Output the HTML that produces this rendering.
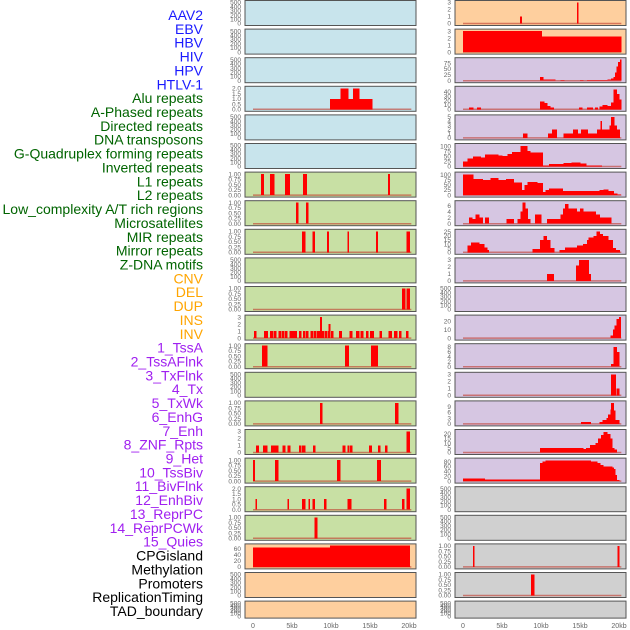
<!DOCTYPE html>
<html><head><meta charset="utf-8"><style>
html,body{margin:0;padding:0;background:#fff;}
svg{display:block;font-family:"Liberation Sans",sans-serif;}
</style></head><body>
<svg id="chart" width="630" height="630" viewBox="0 0 630 630">
<g id="labels"></g>
<g id="panels"></g>
<g id="xaxes"></g>
</svg>
<script>
const trackLabels = ["AAV2","EBV","HBV","HIV","HPV","HTLV-1","Alu repeats","A-Phased repeats","Directed repeats","DNA transposons","G-Quadruplex forming repeats","Inverted repeats","L1 repeats","L2 repeats","Low_complexity A/T rich regions","Microsatellites","MIR repeats","Mirror repeats","Z-DNA motifs","CNV","DEL","DUP","INS","INV","1_TssA","2_TssAFlnk","3_TxFlnk","4_Tx","5_TxWk","6_EnhG","7_Enh","8_ZNF_Rpts","9_Het","10_TssBiv","11_BivFlnk","12_EnhBiv","13_ReprPC","14_ReprPCWk","15_Quies","CPGisland","Methylation","Promoters","ReplicationTiming","TAD_boundary"];
const labelGroups = [6,13,5,15,5];
const groupColors = ["#1a1aff","#006400","#ffa500","#a020f0","#000000"];
const xTickValues = [0,5,10,15,20];
const xTickLabels = ["0","5kb","10kb","15kb","20kb"];

const leftBg = ["b","b","b","b","b","b","g","g","g","g","g","g","g","g","g","g","g","g","g","p","p","p"];
const leftTicks = [
 [0,100,200,300,400,500],[0,100,200,300,400,500],[0,100,200,300,400,500],[0,0.5,1,1.5,2],
 [0,100,200,300,400,500],[0,100,200,300,400,500],[0,0.25,0.5,0.75,1],[0,0.25,0.5,0.75,1],
 [0,0.25,0.5,0.75,1],[0,100,200,300,400,500],[0,0.25,0.5,0.75,1],[0,1,2,3],
 [0,0.25,0.5,0.75,1],[0,100,200,300,400,500],[0,0.25,0.5,0.75,1],[0,1,2,3],
 [0,0.25,0.5,0.75,1],[0,0.5,1,1.5,2],[0,0.25,0.5,0.75,1],[0,20,40,60],
 [0,100,200,300,400,500],[0,100,200,300,400,500]];
const leftMax = [500,500,500,2,500,500,1,1,1,500,1,3,1,500,1,3,1,2,1,70,500,500];
const leftSeg = [
 [],[],[],
 [[9.9,15.3,1],[11.2,12.2,2],[12.8,13.6,2]],
 [],[],
 [[1.0,1.4,1],[2.2,2.7,1],[4.1,4.7,1],[6.4,6.9,1],[17.3,17.5,1]],
 [[5.5,5.8,1],[6.8,7.1,1]],
 [[6.3,6.7,1],[7.6,7.9,1],[9.5,9.7,1],[12.1,12.3,1],[15.8,16.0,1],[19.7,20.1,1]],
 [],
 [[19.1,19.5,1],[19.7,20.1,1]],
 [[0.1,0.4,1],[1.4,1.9,1],[2.2,2.5,1],[2.6,3.0,1],[3.3,3.6,1],[3.7,4.0,1],[4.1,4.4,1],[4.7,5.6,1],[5.9,6.2,1],[6.4,6.7,1],[6.8,7.1,1],[7.4,7.7,1],[7.8,8.1,1],[8.2,8.6,1],[8.6,8.75,3],[8.7,9.1,1],[9.2,9.5,1],[9.6,9.9,1],[9.7,9.9,2],[10.0,10.3,1],[11.0,11.4,1],[12.4,12.7,1],[13.2,13.6,1],[13.8,14.1,1],[14.5,14.8,1],[15.0,15.5,1],[16.2,16.5,1],[17.4,17.8,1],[18.1,18.5,1],[18.7,19.0,1],[19.6,19.9,1]],
 [[1.15,1.8,1],[11.8,12.3,1],[15.1,16.0,1]],
 [],
 [[8.6,8.85,1],[18.2,18.6,1]],
 [[0.4,0.7,1],[1.3,1.8,1],[2.3,3.2,1],[3.8,4.1,1],[4.4,4.8,1],[5.9,6.2,1],[6.3,6.7,1],[7.7,8.0,1],[11.5,11.8,1],[12.1,12.3,1],[12.4,12.7,1],[14.9,15.2,1],[16.0,16.3,1],[16.9,17.2,1],[19.7,20.1,3]],
 [[0.0,0.2,1],[2.8,3.2,1],[10.8,11.2,1],[15.9,16.4,1]],
 [[0.3,0.5,1],[4.4,4.6,1],[6.3,6.7,1],[7.1,7.3,1],[7.6,7.9,1],[9.1,9.4,1],[12.1,12.6,1],[16.8,17.1,1],[19.1,19.4,1],[19.7,20.1,2]],
 [[7.9,8.2,1]],
 [[0,9.9,65],[9.9,20.1,71]],
 [],[]];

const rightBg = ["p","p","l","l","l","l","l","l","l","l","l","l","l","l","l","l","l","y","y","y","y","y"];
const rightTicks = [
 [0,1,2,3],[0,1,2,3],[0,25,50,75],[0,10,20,30,40],[0,1,2,3,4,5],[0,25,50,75,100],[0,25,50,75,100],
 [0,2,4,6],[0,5,10,15,20,25],[0,1,2,3],[0,100,200,300,400,500],[0,10,20],[0,2,4,6,8],[0,1,2,3],
 [0,3,6,9],[0,5,10,15,20],[0,20,40,60,80],[0,100,200,300,400,500],[0,100,200,300,400,500],
 [0,0.25,0.5,0.75,1],[0,0.25,0.5,0.75,1],[0,100,200,300,400,500]];
const rightMax = [3,3,90,48,5,103,103,7,25.5,3,500,25,8.5,3,11,22.5,86,500,500,1,1,500];
const rightSeg = [
 [[7.3,7.5,1],[14.6,14.8,3]],
 [[0,10.1,3],[10.1,20.3,2.2]],
 [[9.9,10.3,15],[10.3,11.8,5],[12.5,13.0,4],[15.0,15.4,4],[15.9,18.5,3],[18.5,19.0,6],[19.0,19.3,10],[19.3,19.5,15],[19.5,19.7,35],[19.7,19.9,60],[19.9,20.1,80],[20.1,20.3,90]],
 [[0.8,1.3,4],[1.8,2.3,4],[9.9,10.4,18],[10.4,10.8,14],[10.8,11.2,8],[11.2,11.6,4],[14.9,15.3,4],[15.9,16.6,4],[16.9,17.3,4],[17.5,17.9,6],[17.9,18.5,10],[18.5,19.0,8],[19.0,19.3,15],[19.3,19.7,45],[19.7,20.0,35],[20.0,20.3,22]],
 [[7.7,8.2,1],[10.9,11.4,1],[11.4,12.0,2],[12.9,14.1,1],[14.1,14.7,2],[14.7,15.1,1],[15.1,16.0,2],[16.0,17.2,1],[17.2,17.6,2],[17.6,17.8,4],[17.8,18.8,2],[18.8,19.0,3],[19.0,19.4,5],[19.4,19.7,3],[19.7,20.1,2]],
 [[0,0.6,25],[0.6,1.3,40],[1.3,2.3,48],[2.3,2.8,45],[2.8,4.0,58],[4.0,4.5,60],[4.5,5.0,55],[5.0,5.7,52],[5.7,6.3,62],[6.3,7.4,72],[7.4,8.2,100],[8.2,8.6,75],[8.6,10.2,68],[10.2,11.0,5],[11.0,12.9,12],[12.9,13.9,18],[13.9,15.0,20],[15.0,15.8,15],[15.8,17.8,5]],
 [[0,1.3,100],[1.3,2.5,80],[2.5,3.5,75],[3.5,4.5,85],[4.5,5.5,75],[5.5,6.5,80],[6.5,7.5,62],[7.5,7.9,25],[7.9,8.3,50],[8.3,9.5,65],[9.5,10.2,60],[10.2,10.6,15],[10.6,11.0,25],[11.0,12.8,32],[12.8,17.5,20],[17.5,18.0,25],[18.0,18.6,28],[18.6,19.3,20],[19.3,19.8,8],[19.8,20.2,3]],
 [[0.8,1.2,2],[1.2,1.6,1.5],[1.6,2.1,3],[2.1,2.5,2],[2.8,3.3,2],[5.6,6.5,1.5],[7.0,7.4,1.5],[7.4,7.6,4],[7.6,8.0,7],[8.0,8.3,5],[8.3,8.6,1.5],[9.2,10.0,3],[10.8,12.5,1.5],[12.5,12.8,3],[12.8,13.1,5],[13.1,13.5,6.5],[13.5,14.6,5],[14.6,15.0,4],[15.0,15.4,5],[15.4,16.0,4],[16.0,17.0,4],[17.0,17.5,3],[17.5,19.0,2]],
 [[0.6,1.0,8],[1.0,2.1,12],[2.1,2.7,10],[2.7,3.1,6],[3.1,3.3,3],[8.9,9.9,4],[9.9,10.3,15],[10.3,10.7,20],[10.7,11.2,15],[11.2,11.7,5],[12.4,13.1,3],[13.1,14.6,6],[14.6,15.4,8],[15.4,15.9,10],[15.9,16.1,15],[16.1,16.7,18],[16.7,17.1,20],[17.1,17.5,25],[17.5,17.9,22],[17.9,18.6,20],[18.6,19.2,15],[19.2,19.6,5],[19.6,20.1,3]],
 [[10.8,11.6,1],[14.5,14.9,2.2],[14.9,16.1,3],[16.1,16.4,1]],
 [],
 [[18.9,19.2,3],[19.2,19.4,10],[19.4,19.7,15],[19.7,20.0,23],[20.0,20.2,25]],
 [[19.0,19.3,1],[19.3,19.7,8],[19.7,20.0,6]],
 [[19.0,19.6,3],[19.7,20.0,1]],
 [[15.1,16.4,1],[17.5,17.9,1],[17.9,18.4,2],[18.4,18.6,3],[18.6,18.9,5],[18.9,19.0,7.5],[19.0,19.3,11],[19.3,19.5,7],[19.5,20.0,2]],
 [[9.9,15.4,5],[15.4,15.8,3.5],[15.8,16.3,5],[16.3,17.0,8],[17.0,17.3,10],[17.3,17.7,15],[17.7,18.0,19],[18.0,18.5,22],[18.5,18.9,20],[18.9,19.1,15],[19.1,19.4,5],[19.4,19.7,3]],
 [[0,2.8,10],[2.8,9.9,6],[9.9,10.2,75],[10.2,10.6,80],[10.6,16.4,85],[16.4,17.2,80],[17.2,17.6,75],[17.6,18.0,65],[18.0,19.1,60],[19.1,19.3,55],[19.3,19.5,50],[19.5,19.7,25],[19.7,20.0,5]],
 [],[],
 [[1.25,1.45,1],[19.8,20.0,1]],
 [[8.7,9.1,1]],
 []];

const bgColors = {b:"#c8e4ec",g:"#c8e0a4",p:"#fecf9e",l:"#d6c6e2",y:"#d0d0d0"};
const NS = "http://www.w3.org/2000/svg";
function mk(tag, attrs, parent){const e=document.createElementNS(NS,tag);for(const k in attrs)e.setAttribute(k,attrs[k]);parent.appendChild(e);return e;}

const lg = document.getElementById('labels');
let gi=0, gc=0;
trackLabels.forEach((t,i)=>{
  while(gc>=labelGroups[gi]){gi++;gc=0;}
  gc++;
  const y = 15 + i*13.86;
  const tx = mk('text',{x:203,y:y+5,'text-anchor':'end','font-size':'14',fill:groupColors[gi]},lg);
  
  
  tx.textContent = t;
});

const pg = document.getElementById('panels');
function rowTop(i){return 0.5 + i*28.6;}
function rowH(i){return i===21?17:25;}
function fmt(v,ticks){
  const dec = ticks.some(t=>Math.abs(t-Math.round(t))>1e-9 && Math.abs(t*2-Math.round(t*2))>1e-9) ? 2 : (ticks.some(t=>Math.abs(t-Math.round(t))>1e-9)?1:0);
  return v.toFixed(dec);
}
function drawCol(x0, bgs, ticks, maxes, segs, side){
  const xZero = x0+8, kbPx = 7.8;
  const xs = kb => xZero + kb*kbPx;
  for(let i=0;i<22;i++){
    const top=rowTop(i), h=rowH(i);
    const g = mk('g',{},pg);
    
    
    mk('rect',{x:x0,y:top,width:171,height:h,fill:bgColors[bgs[i]],stroke:'#555','stroke-width':1},g);
    const yZero = top+h-2, ySpan = h-4;
    const ys = v => yZero - v/maxes[i]*ySpan;
    ticks[i].forEach(t=>{
      const tt = mk('text',{x:x0-4,y:ys(t)+2.2,'text-anchor':'end','font-size':'6.5',fill:'#666'},g);
      
      
      tt.textContent = fmt(t,ticks[i]);
    });
    if(segs[i].length){
      mk('line',{x1:xs(0),x2:xs(20.3),y1:yZero,y2:yZero,stroke:'#c0392b','stroke-width':1.5,'stroke-opacity':0.6},g);
    }
    segs[i].forEach(s=>{
      const w = Math.max(xs(s[1])-xs(s[0]),1.5)+0.3;
      const r = mk('rect',{x:xs(s[0]),y:ys(s[2]),width:w,height:yZero-ys(s[2]),fill:'#ff0000','shape-rendering':'crispEdges'},g);
      
      
    });
  }
  const xa = document.getElementById('xaxes');
  xTickValues.forEach((v,k)=>{
    const t = mk('text',{x:xs(v),y:628,'text-anchor':'middle','font-size':'7',fill:'#666'},xa);
    
    
    t.textContent = xTickLabels[k];
  });
}
drawCol(245, leftBg, leftTicks, leftMax, leftSeg, 'left');
drawCol(455, rightBg, rightTicks, rightMax, rightSeg, 'right');
</script>
</body></html>
